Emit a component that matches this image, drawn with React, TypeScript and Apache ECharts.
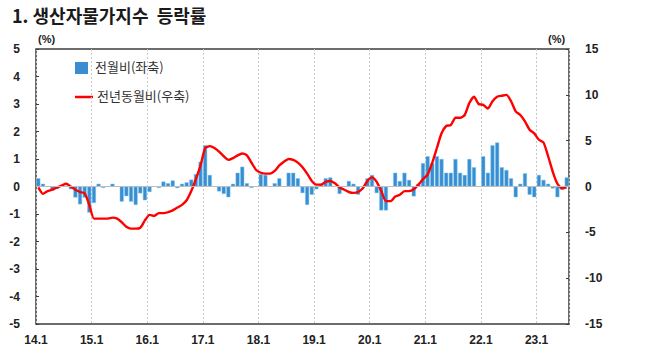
import React, { useEffect, useRef } from 'react';
import * as echarts from 'echarts';

// x-axis tick labels (January of each year)
const yearLabels = ['14.1', '15.1', '16.1', '17.1', '18.1', '19.1', '20.1', '21.1', '22.1', '23.1'];

// 전월비 (month-on-month, %, left axis)
const mom2014 = [0.3, 0.1, 0.0, -0.15, -0.1, 0.0, 0.0, -0.1, -0.4, -0.65, -0.4, -0.95];
const mom2015 = [-0.6, 0.1, -0.05, 0.0, 0.1, 0.0, -0.55, -0.35, -0.55, -0.67, -0.25, -0.5];
const mom2016 = [-0.2, 0.0, -0.05, 0.18, 0.12, 0.22, -0.06, 0.1, 0.15, 0.25, 0.45, 0.9];
const mom2017 = [1.5, 0.42, 0.0, -0.18, -0.27, -0.39, 0.1, 0.5, 0.72, 0.12, -0.05, 0.0];
const mom2018 = [0.45, 0.42, 0.0, 0.12, 0.3, 0.0, 0.5, 0.5, 0.3, -0.24, -0.67, -0.3];
const mom2019 = [-0.1, 0.1, 0.3, 0.33, 0.0, -0.27, 0.0, 0.2, 0.1, -0.3, 0.0, 0.3];
const mom2020 = [0.42, -0.24, -0.87, -0.87, 0.0, 0.5, 0.2, 0.5, 0.24, -0.36, 0.1, 0.85];
const mom2021 = [1.1, 0.85, 1.1, 1.0, 0.5, 0.5, 1.0, 0.5, 0.42, 1.0, 0.7, 0.0];
const mom2022 = [1.1, 0.5, 1.5, 1.6, 0.7, 0.6, 0.3, -0.39, 0.1, 0.48, -0.3, -0.39];
const mom2023 = [0.42, 0.24, 0.1, -0.07, -0.39, -0.12, 0.33];

// 전년동월비 (year-on-year, %, right axis)
const yoy2014 = [-0.1, -0.8, -0.5, -0.35, -0.1, 0.1, 0.3, 0.0, -0.35, -0.6, -0.75, -2.0];
const yoy2015 = [-3.5, -3.5, -3.5, -3.5, -3.4, -3.5, -3.9, -4.4, -4.6, -4.6, -4.5, -3.7];
const yoy2016 = [-3.1, -3.2, -2.9, -2.9, -2.8, -2.6, -2.3, -2.0, -1.5, -0.5, 0.8, 2.3];
const yoy2017 = [4.2, 4.4, 4.2, 3.8, 3.3, 2.9, 3.1, 3.4, 3.6, 3.4, 2.6, 1.8];
const yoy2018 = [1.5, 1.4, 1.4, 1.7, 2.3, 2.7, 3.0, 2.9, 2.6, 2.1, 1.4, 0.6];
const yoy2019 = [0.2, 0.2, 0.5, 0.6, 0.35, -0.1, -0.35, -0.6, -0.7, -0.6, -0.2, 0.6];
const yoy2020 = [1.0, 0.5, -0.5, -1.6, -1.6, -1.1, -0.9, -0.5, -0.5, -0.3, 0.2, 0.8];
const yoy2021 = [1.3, 2.6, 4.2, 5.8, 6.6, 6.7, 7.5, 7.5, 7.8, 9.1, 9.8, 9.0];
const yoy2022 = [8.9, 8.5, 9.3, 9.8, 9.9, 10.0, 9.3, 8.2, 7.8, 7.1, 6.2, 5.8];
const yoy2023 = [5.1, 4.8, 3.3, 1.6, 0.3, -0.2, -0.1];

const momValues = [
  ...mom2014, ...mom2015, ...mom2016, ...mom2017, ...mom2018,
  ...mom2019, ...mom2020, ...mom2021, ...mom2022, ...mom2023,
];
const yoyValues = [
  ...yoy2014, ...yoy2015, ...yoy2016, ...yoy2017, ...yoy2018,
  ...yoy2019, ...yoy2020, ...yoy2021, ...yoy2022, ...yoy2023,
];

const TITLE = '1. 생산자물가지수  등락률';
const LEGEND_BAR = '전월비(좌축)';
const LEGEND_LINE = '전년동월비(우축)';

const NUM_FONT = '"Liberation Sans", Arial, sans-serif';
const KR_FONT = '"Noto Sans CJK KR", "Noto Sans", sans-serif';

export default function App() {
  const ref = useRef<HTMLDivElement>(null);

  useEffect(() => {
    document.body.style.margin = '0';
    const chart = echarts.init(ref.current!, null, { renderer: 'svg' });
    const n = momValues.length;
    const barData = momValues.map((v, i) => [i + 0.5, v]);
    const lineData = yoyValues.map((v, i) => [i + 0.5, v]);

    chart.setOption({
      animation: false,
      backgroundColor: '#ffffff',
      title: {
        text: TITLE,
        left: 7,
        top: 1,
        textStyle: { fontFamily: KR_FONT, fontSize: 18, fontWeight: 'bold', color: '#1a1a1a' },
      },
      grid: {
        left: 36,
        right: 78,
        top: 49,
        bottom: 35,
        show: true,
        borderColor: '#3c3c3c',
        borderWidth: 1.5,
        backgroundColor: 'transparent',
      },
      xAxis: {
        type: 'value',
        min: 0,
        max: n,
        interval: 12,
        axisLine: { show: false },
        axisTick: { show: false },
        splitLine: { show: true, lineStyle: { color: '#c8c8c8', type: [2, 2], width: 1 } },
        axisLabel: {
          margin: 10,
          showMaxLabel: false,
          fontFamily: NUM_FONT,
          fontSize: 12,
          fontWeight: 'bold',
          color: '#222',
          formatter: (v: number) => {
            if (v % 12 !== 0) return '';
            return yearLabels[v / 12] ?? '';
          },
        },
      },
      yAxis: [
        {
          type: 'value',
          min: -5,
          max: 5,
          interval: 1,
          axisLine: { show: false },
          axisTick: { show: true, inside: true, length: 3, lineStyle: { color: '#3c3c3c' } },
          splitLine: { show: false },
          axisLabel: { margin: 16, fontFamily: NUM_FONT, fontSize: 12, fontWeight: 'bold', color: '#222' },
        },
        {
          type: 'value',
          min: -15,
          max: 15,
          interval: 5,
          position: 'right',
          axisLine: { show: false },
          axisTick: { show: true, inside: true, length: 3, lineStyle: { color: '#3c3c3c' } },
          splitLine: { show: false },
          axisLabel: { margin: 16, fontFamily: NUM_FONT, fontSize: 12, fontWeight: 'bold', color: '#222' },
        },
      ],
      graphic: [
        { type: 'text', left: 38, top: 33, style: { text: '(%)', font: `bold 11px ${NUM_FONT}`, fill: '#222' } },
        { type: 'text', left: 548, top: 33, style: { text: '(%)', font: `bold 11px ${NUM_FONT}`, fill: '#222' } },
        { type: 'rect', shape: { x: 75, y: 62, width: 13, height: 12 }, style: { fill: '#3a8dd0' } },
        { type: 'text', left: 95, top: 60, style: { text: LEGEND_BAR, font: `13px ${KR_FONT}`, fill: '#333' } },
        { type: 'line', shape: { x1: 75, y1: 97, x2: 93, y2: 97 }, style: { stroke: '#ff0000', lineWidth: 2.5 } },
        { type: 'text', left: 97, top: 89, style: { text: LEGEND_LINE, font: `13px ${KR_FONT}`, fill: '#333' } },
      ],
      series: [
        {
          name: LEGEND_BAR,
          type: 'bar',
          yAxisIndex: 0,
          data: barData,
          barWidth: 4,
          itemStyle: { color: '#3a8dd0', borderColor: '#78c6ef', borderWidth: 0.5 },
          markLine: {
            silent: true,
            symbol: 'none',
            label: { show: false },
            lineStyle: { color: '#bdbdbd', type: 'solid', width: 1 },
            data: [{ yAxis: 0 }],
          },
          z: 2,
        },
        {
          name: LEGEND_LINE,
          type: 'line',
          yAxisIndex: 1,
          data: lineData,
          symbol: 'none',
          smooth: 0.2,
          lineStyle: { color: '#ff0000', width: 2.4 },
          z: 3,
        },
      ],
    });
    return () => chart.dispose();
  }, []);

  return <div ref={ref} style={{ position: 'absolute', left: 0, top: 0, width: 647, height: 359 }} />;
}
